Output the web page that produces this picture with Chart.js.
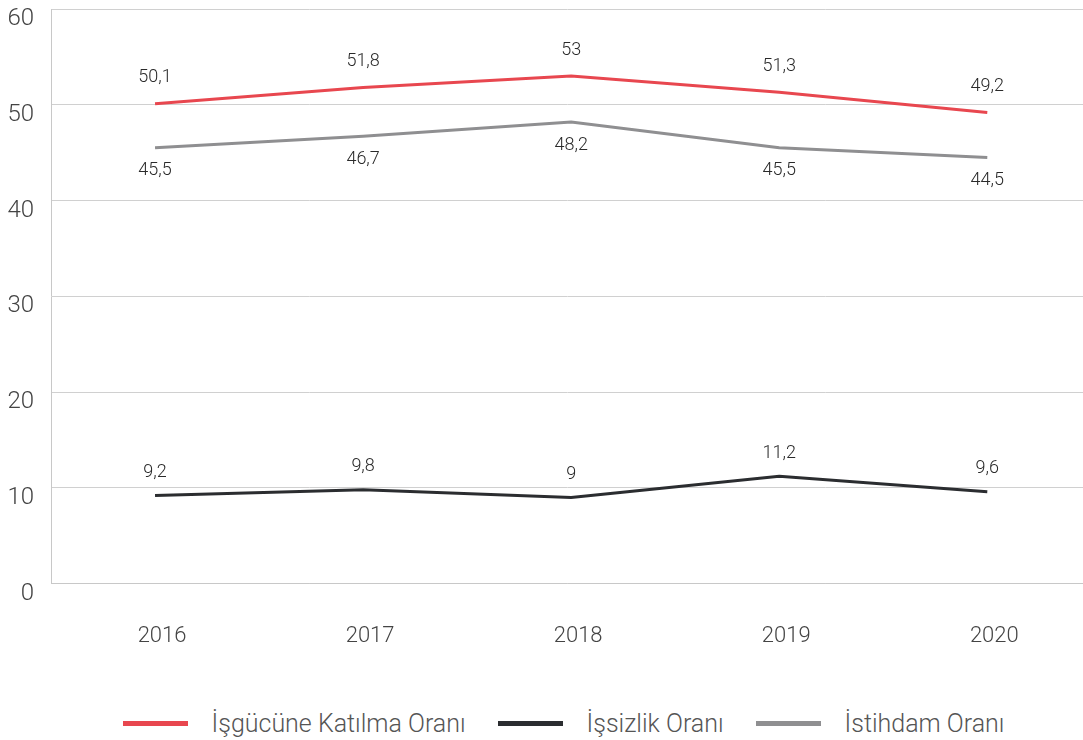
<!DOCTYPE html>
<html>
<head>
<meta charset="utf-8">
<script src="https://cdn.jsdelivr.net/npm/chart.js@4"></script>
<style>
  html, body { margin: 0; padding: 0; background: #fff; overflow: hidden; }
  #wrap { position: relative; width: 1083px; height: 682px; }
  #legend { position: absolute; top: 709px; left: 22px; width: 1083px; display: flex; justify-content: center;
            font-family: Roboto, sans-serif; font-weight: 300; font-size: 25px; color: #555; }
  .item { display: flex; align-items: center; margin: 0 16px; }
  .swatch { width: 65px; height: 5px; margin-right: 24px; }
</style>
</head>
<body>
<div id="wrap"><canvas id="myChart"></canvas></div>
<div id="legend"></div>
<script>
const years = [2016, 2017, 2018, 2019, 2020]
const katilma = [50.1, 51.8, 53, 51.3, 49.2]
const issizlik = [9.2, 9.8, 9, 11.2, 9.6]
const istihdam = [45.5, 46.7, 48.2, 45.5, 44.5]
const seriesNames = ["İşgücüne Katılma Oranı", "İşsizlik Oranı", "İstihdam Oranı"]
const colors = ["#e8474f", "#2b2d30", "#8f8f91"]
const labelPos = [-26, -23, 23]

function points(vals) {
  return years.map((y, i) => ({ x: y, y: vals[i] }))
}

// value labels drawn next to every point
const valueLabels = {
  id: 'valueLabels',
  afterDatasetsDraw(chart) {
    const ctx = chart.ctx
    ctx.save()
    ctx.font = '300 18px Roboto, sans-serif'
    ctx.fillStyle = '#2a2a2a'
    ctx.textAlign = 'center'
    ctx.textBaseline = 'middle'
    chart.data.datasets.forEach((ds, di) => {
      chart.getDatasetMeta(di).data.forEach((pt, i) => {
        ctx.fillText(String(ds.data[i].y).replace('.', ','), pt.x, pt.y + labelPos[di])
      })
    })
    ctx.restore()
  }
}

const ctx = document.getElementById('myChart')
new Chart(ctx, {
  type: 'line',
  data: {
    datasets: [katilma, issizlik, istihdam].map((vals, i) => ({
      label: seriesNames[i],
      data: points(vals),
      borderColor: colors[i],
      backgroundColor: colors[i],
      borderWidth: 3,
      pointRadius: 0,
      tension: 0
    }))
  },
  options: {
    responsive: true,
    maintainAspectRatio: false,
    animation: false,
    layout: { padding: { top: 9, right: 0, left: 0, bottom: 0 } },
    plugins: {
      legend: { display: false },
      tooltip: { enabled: false }
    },
    scales: {
      x: {
        type: 'linear',
        min: 2015.5,
        max: 2020.46,
        grid: { display: false },
        border: { color: '#c8c8c8', width: 1 },
        ticks: {
          stepSize: 1,
          includeBounds: false,
          padding: 32,
          labelOffset: 7,
          color: '#444',
          font: { family: 'Roboto', weight: 300, size: 22 },
          callback: v => String(v)
        }
      },
      y: {
        min: 0,
        max: 60,
        afterFit: s => { s.width = 51; s.paddingTop = 0; s.paddingBottom = 0 },
        grid: { color: '#d0d0d0', drawTicks: false },
        border: { color: '#c8c8c8', width: 1 },
        ticks: {
          stepSize: 10,
          padding: 17,
          labelOffset: 10,
          color: '#444',
          font: { family: 'Roboto', weight: 300, size: 24 }
        }
      }
    }
  },
  plugins: [valueLabels]
})

const legend = document.getElementById('legend')
seriesNames.forEach((n, i) => {
  const item = document.createElement('div')
  item.className = 'item'
  item.innerHTML = '<span class="swatch" style="background:' + colors[i] + '"></span><span>' + n + '</span>'
  legend.appendChild(item)
})
</script>
</body>
</html>
